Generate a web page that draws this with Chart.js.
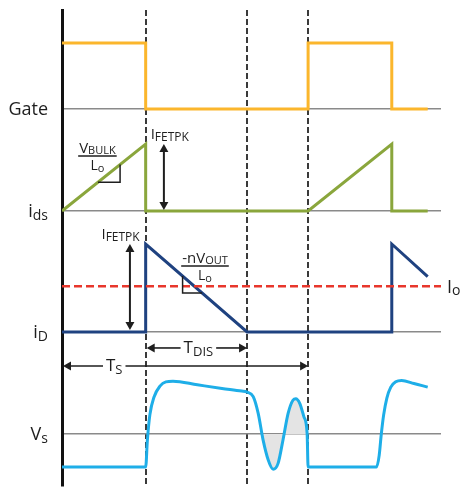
<!DOCTYPE html>
<html>
<head>
<meta charset="utf-8">
<script src="https://cdn.jsdelivr.net/npm/chart.js@4.4.0/dist/chart.umd.min.js"></script>
<style>
  html, body { margin: 0; padding: 0; background: #fff; }
  #wrap { width: 472px; height: 495px; }
</style>
</head>
<body>
<div id="wrap"><canvas id="timing"></canvas></div>
<script>
// time axis in units where Ts = 10
const edgeTimes = [3.4, 7.52, 10];

const gateT = [0, 3.4, 3.4, 10, 10, 13.4, 13.4, 14.86];
const gateV = [1, 1, 0, 0, 1, 1, 0, 0];

const idsT = [0, 3.4, 3.4, 10, 13.4, 13.4, 14.86];
const idsV = [0, 1, 0, 0, 1, 0, 0];

const idT = [0, 3.4, 3.4, 7.52, 13.4, 13.4, 14.86];
const idV = [0, 0, 1, 0, 0, 1, 0.63];

const ioT = [0, 15.4];
const ioV = [0.52, 0.52];

const vsT = [0, 3.4, 3.47, 3.57, 3.74, 3.98, 4.22, 4.51, 5.5, 6.5, 7.3, 7.52, 7.77, 7.97, 8.17, 8.38, 8.58, 8.78, 8.98,
  9.19, 9.39, 9.5, 9.66, 9.83, 9.96, 10.0, 12.78, 12.89, 12.97, 13.07, 13.2, 13.36, 13.56, 13.8, 14.3, 14.86];
const vsV = [-1, -1, -0.18, 0.58, 1.12, 1.45, 1.58, 1.6, 1.49, 1.38, 1.3, 1.27, 1.13, 0.63, -0.18, -0.79, -1.07, -0.89, -0.18,
  0.63, 1.03, 1.07, 0.93, 0.52, 0.02, -1, -1, -0.64, -0.03, 0.58, 1.09, 1.42, 1.58, 1.62, 1.53, 1.42];

// shaded ringing window of Vs
const ringFrom = 8.1, ringTo = 9.97;

const rowLabels = [['Gate', ''], ['i', 'ds'], ['i', 'D'], ['V', 's']];

const FONT = "'Open Sans', 'Noto Sans', sans-serif";
const ink = '#1e1e1e';

function pts(ts, vs) {
  return ts.map((t, i) => ({x: t, y: vs[i]}));
}

const ringPts = pts(vsT, vsV).filter(p => p.x >= ringFrom && p.x <= ringTo);

function rowAxis(min, max, stackWeight, weight) {
  return {
    type: 'linear', position: 'left', stack: 'rows', stackWeight, weight,
    min, max,
    afterBuildTicks: s => { s.ticks = [{value: 0}]; },
    ticks: {display: false},
    grid: {color: '#8a8a8a', lineWidth: 1.5, drawTicks: false},
    border: {display: true, color: '#111', width: 3}
  };
}

function subText(ctx, main, sub, x, y, size, subSize, drop, align) {
  ctx.font = size + 'px ' + FONT;
  const w1 = ctx.measureText(main).width;
  ctx.font = subSize + 'px ' + FONT;
  const w2 = sub ? ctx.measureText(sub).width : 0;
  let x0 = x;
  if (align === 'center') x0 = x - (w1 + w2) / 2;
  if (align === 'right') x0 = x - (w1 + w2);
  ctx.textAlign = 'left';
  ctx.textBaseline = 'alphabetic';
  ctx.font = size + 'px ' + FONT;
  ctx.fillText(main, x0, y);
  if (sub) {
    ctx.font = subSize + 'px ' + FONT;
    ctx.fillText(sub, x0 + w1, y + drop);
  }
  return {left: x0, right: x0 + w1 + w2};
}

function head(ctx, x, y, dx, dy) {
  const L = 8, W = 4.5;
  ctx.beginPath();
  ctx.moveTo(x, y);
  ctx.lineTo(x - dx * L - dy * W, y - dy * L + dx * W);
  ctx.lineTo(x - dx * L + dy * W, y - dy * L - dx * W);
  ctx.closePath();
  ctx.fill();
}

function line(ctx, x1, y1, x2, y2) {
  ctx.beginPath();
  ctx.moveTo(x1, y1);
  ctx.lineTo(x2, y2);
  ctx.stroke();
}

function vArrow(ctx, x, yTop, yBot) {
  ctx.lineWidth = 2;
  line(ctx, x, yTop + 6, x, yBot - 6);
  head(ctx, x, yTop, 0, -1);
  head(ctx, x, yBot, 0, 1);
}

function fraction(ctx, cx, y, num, numSub, den, denSub) {
  const r = subText(ctx, num, numSub, cx, y, 15, 11, 1, 'center');
  ctx.lineWidth = 1.3;
  line(ctx, r.left - 1, y + 3, r.right + 1, y + 3);
  subText(ctx, den, denSub, cx, y + 17, 14, 11, 2, 'center');
}

// right-angle slope marker against a ramp (t0,v0)-(t1,v1)
function slopeMark(ctx, X, Y, tc, vc, t0, v0, t1, v1) {
  const k = (v1 - v0) / (t1 - t0);
  const vAt = v0 + k * (tc - t0);
  const tAt = t0 + (vc - v0) / k;
  ctx.lineWidth = 1.5;
  ctx.beginPath();
  ctx.moveTo(X(tc), Y(vAt));
  ctx.lineTo(X(tc), Y(vc));
  ctx.lineTo(X(tAt), Y(vc));
  ctx.stroke();
}

function hSpan(ctx, xa, xb, y, textX, main, sub, align) {
  ctx.lineWidth = 1.6;
  const r = subText(ctx, main, sub, textX, y + 5, 17, 13, 3, align);
  line(ctx, xa + 6, y, r.left - 3, y);
  line(ctx, r.right + 3, y, xb - 6, y);
  head(ctx, xa, y, -1, 0);
  head(ctx, xb, y, 1, 0);
}

const notes = {
  id: 'notes',
  afterDatasetsDraw(chart) {
    const {ctx, chartArea: area, scales} = chart;
    const X = t => scales.x.getPixelForValue(t);
    const G = v => scales.yGate.getPixelForValue(v);
    const I = v => scales.yIds.getPixelForValue(v);
    const D = v => scales.yId.getPixelForValue(v);
    const V = v => scales.yVs.getPixelForValue(v);
    ctx.save();
    ctx.fillStyle = ink;
    ctx.strokeStyle = ink;

    [G, I, D, V].forEach((Y, i) => {
      subText(ctx, rowLabels[i][0], rowLabels[i][1], area.left - 14, Y(0) + 6, 18, 14, 3, 'right');
    });
    subText(ctx, 'I', 'o', area.right + 6, D(ioV[0]) + 7, 18, 14, 2, 'left');

    // drain-source current
    subText(ctx, 'I', 'FETPK', X(edgeTimes[0]) + 5, I(1) - 5, 15, 12, 2, 'left');
    vArrow(ctx, X(4.14), I(1), I(0) - 1);
    fraction(ctx, X(1.44), I(1) + 9, 'V', 'BULK', 'L', 'o');
    slopeMark(ctx, X, I, 2.36, 0.43, idsT[0], idsV[0], idsT[1], idsV[1]);

    // diode current
    subText(ctx, 'I', 'FETPK', X(edgeTimes[0]) - 6, D(1) - 5, 15, 12, 2, 'right');
    vArrow(ctx, X(2.76), D(1), D(0) - 2);
    fraction(ctx, X(5.81), D(1) + 19, '-nV', 'OUT', 'L', 'o');
    slopeMark(ctx, X, D, 4.9, 0.443, idT[2], idV[2], idT[3], idV[3]);

    // time spans
    hSpan(ctx, X(edgeTimes[0]) + 1, X(edgeTimes[1]), D(0) + 16,
      (X(edgeTimes[0]) + X(edgeTimes[1])) / 2 + 2, 'T', 'DIS', 'center');
    hSpan(ctx, X(0) + 1, X(edgeTimes[2]), D(0) + 34, X(0) + 44, 'T', 'S', 'left');
    ctx.restore();
  }
};

new Chart(document.getElementById('timing'), {
  type: 'line',
  data: {
    datasets: [
      {label: 'ring', data: ringPts, yAxisID: 'yVs', fill: 'origin', backgroundColor: '#e4e4e4',
        borderWidth: 0, cubicInterpolationMode: 'monotone', order: 5},
      {label: 'Gate', data: pts(gateT, gateV), yAxisID: 'yGate', borderColor: '#fbb62c', borderWidth: 3},
      {label: 'ids', data: pts(idsT, idsV), yAxisID: 'yIds', borderColor: '#8aa63c', borderWidth: 3},
      {label: 'Io', data: pts(ioT, ioV), yAxisID: 'yId', borderColor: '#e8372c', borderWidth: 2.5,
        borderDash: [8, 4]},
      {label: 'iD', data: pts(idT, idV), yAxisID: 'yId', borderColor: '#1f4280', borderWidth: 3},
      {label: 'Vs', data: pts(vsT, vsV), yAxisID: 'yVs', borderColor: '#1eaee8', borderWidth: 3,
        cubicInterpolationMode: 'monotone'}
    ]
  },
  options: {
    responsive: true,
    maintainAspectRatio: false,
    animation: false,
    events: [],
    layout: {padding: {left: 62, right: 31, top: 10, bottom: 9}},
    elements: {
      point: {radius: 0},
      line: {tension: 0, borderJoinStyle: 'miter', fill: false}
    },
    plugins: {legend: {display: false}, tooltip: {enabled: false}},
    scales: {
      x: {
        type: 'linear', min: 0, max: 15.4,
        afterBuildTicks: s => { s.ticks = edgeTimes.map(v => ({value: v})); },
        ticks: {display: false},
        grid: {color: '#3a3a3a', lineWidth: 2, drawTicks: false},
        border: {display: false, dash: [6, 3]}
      },
      yGate: rowAxis(-0.258, 1.5, 116, 4),
      yIds: rowAxis(-0.254, 1.269, 102, 3),
      yId: rowAxis(-0.205, 1.182, 122, 2),
      yVs: rowAxis(-1.576, 2.545, 136, 1)
    }
  },
  plugins: [notes]
});
</script>
</body>
</html>
